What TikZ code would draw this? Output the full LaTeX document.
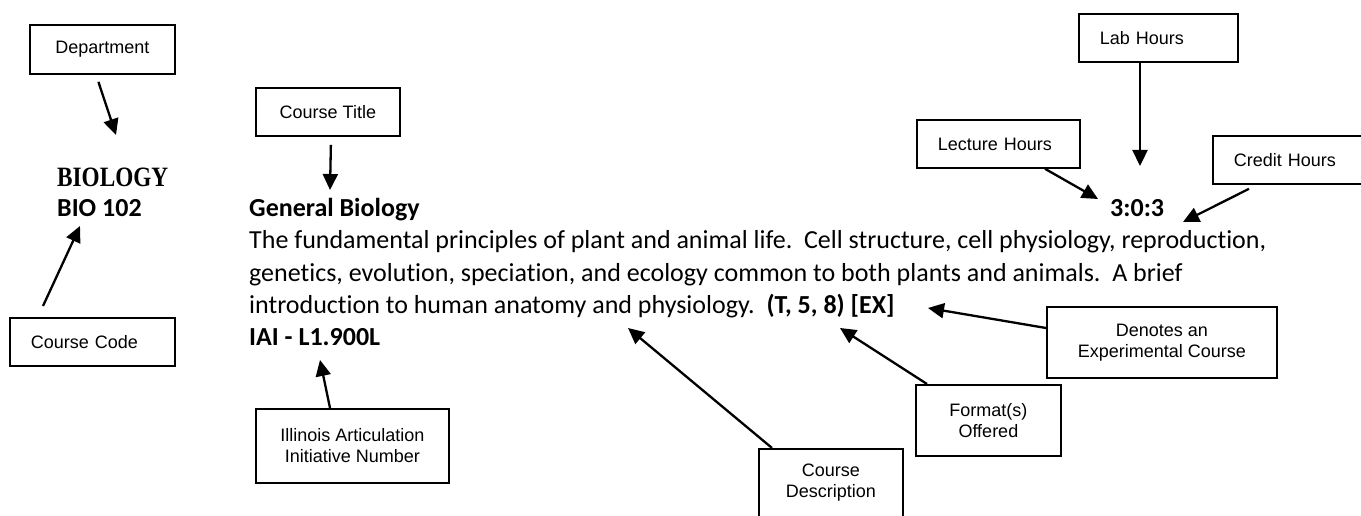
\documentclass[tikz,border=0pt]{standalone}
\usepackage{fontspec}
\usepackage{graphicx}
\setmainfont{Carlito}[Ligatures=NoCommon]
\newfontfamily\arialf{Liberation Sans}
\newfontfamily\serifb{Liberation Serif}
\usetikzlibrary{arrows.meta}
\newcommand\lblfont{\arialf\fontsize{18}{21}\selectfont}
\newcommand\bodyfont{\fontsize{26}{32}\selectfont}
\tikzset{
  box/.style={draw, line width=1.8pt, inner sep=0pt, anchor=north west, font=\lblfont},
  lbox/.style={box, inner xsep=21pt, align=left, minimum height=48pt},
  cbox/.style={box, align=center},
  arr/.style={line width=2.3pt, -{Triangle[length=16pt,width=15pt]}},
  txt/.style={inner sep=0pt, anchor=base west, font=\bodyfont},
}
\begin{document}
\begin{tikzpicture}[x=1pt,y=-1pt]
\clip (0,0) rectangle (1361,516);
\fill[white] (0,0) rectangle (1361,516);

% label boxes
\node[cbox, minimum width=145pt, minimum height=49pt] (dept) at (29,24) {Department};
\node[cbox, minimum width=144pt, minimum height=48pt] (title) at (255,87) {Course Title};
\node[lbox, text width=123pt] (code) at (9,317) {Course Code};
\node[lbox, text width=117pt] (lab) at (1078,13) {Lab Hours};
\node[lbox, text width=121pt] (lect) at (916,119) {Lecture Hours};
\node[lbox, text width=128pt] (cred) at (1212,135) {Credit Hours};
\node[cbox, minimum width=193pt, minimum height=74pt] (iai) at (255,408) {Illinois Articulation\\Initiative Number};
\node[cbox, minimum width=145pt, minimum height=71pt] (fmt) at (915,384) {Format(s)\\Offered};
\node[cbox, minimum width=230pt, minimum height=71pt] (den) at (1046,306) {Denotes an\\Experimental Course};
\node[cbox, minimum width=144pt, inner ysep=15pt, text depth=30pt] (desc) at (758,448) {Course\\Description};

% catalogue text
\node[txt] (biology) at (57,187) {\serifb\bfseries\fontsize{28}{30}\selectfont\scalebox{0.83}[1]{BIOLOGY}};
\node[txt] (bio) at (57,217) {\bfseries BIO 102};
\node[txt] (gb) at (249,216) {\bfseries General Biology};
\node[txt] (hrs) at (1110,217) {\bfseries 3:0:3};
\node[txt] (l1) at (249,248) {The fundamental principles of plant and animal life.\ \ Cell structure, cell physiology, reproduction,};
\node[txt] (l2) at (249,281) {genetics, evolution, speciation, and ecology common to both plants and animals.\ \ A brief};
\node[txt] (l3) at (249,313) {introduction to human anatomy and physiology.\ \ \textbf{(T, 5, 8) [EX]}};
\node[txt] (iait) at (249,345) {\bfseries IAI - L1.900L};

% arrow tips
\coordinate (tDept) at (116,135);
\coordinate (tTitle) at (330,190);
\coordinate (tCode) at (80,226);
\coordinate (tIAI) at (320,360);
\coordinate (tDesc) at (628,328);
\coordinate (tFmt) at (840,328);
\coordinate (tDen) at (928,308);
\coordinate (tLect) at (1098,199);
\coordinate (tLab) at (1140,166);
\coordinate (tCred) at (1183,222);

% connectors
\draw[arr] ([shift={(-4,7)}]dept.south) -- (tDept);
\draw[arr] ([shift={(3,8)}]title.south) -- (tTitle);
\draw[arr] ([shift={(34,-11)}]code.north west) -- (tCode);
\draw[arr] ([shift={(75,0)}]iai.north west) -- (tIAI);
\draw[arr] ([shift={(14,0)}]desc.north west) -- (tDesc);
\draw[arr] ([shift={(12,0)}]fmt.north west) -- (tFmt);
\draw[arr] ([shift={(0,22)}]den.north west) -- (tDen);
\draw[arr] ([shift={(129,0)}]lect.south west) -- (tLect);
\draw[arr] ([shift={(62,0)}]lab.south west) -- (tLab);
\draw[arr] ([shift={(37,4)}]cred.south west) -- (tCred);
\end{tikzpicture}
\end{document}
